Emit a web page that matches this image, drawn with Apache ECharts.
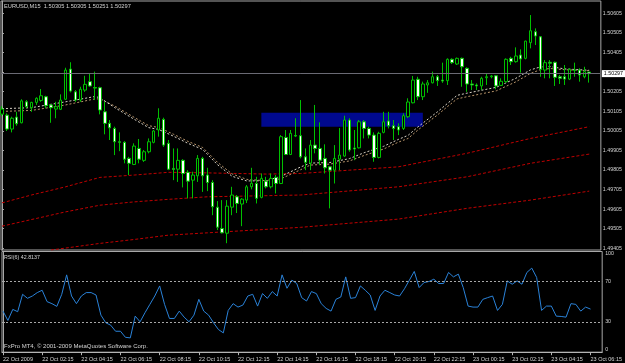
<!DOCTYPE html>
<html><head><meta charset="utf-8">
<script src="https://cdn.jsdelivr.net/npm/echarts@6/dist/echarts.min.js"></script>
<style>html,body{margin:0;padding:0;background:#000;}#c{width:625px;height:363px;}</style>
</head><body><div id="c"></div>
<script>
const symbolName = 'EURUSD,M15';
const opens = [1.50090,1.50085,1.50014,1.50075,1.50046,1.50153,1.50123,1.50150,1.50160,1.50179,
1.50137,1.50116,1.50115,1.50166,1.50320,1.50204,1.50162,1.50213,1.50256,1.50226,
1.50225,1.50102,1.50043,1.50017,1.49949,1.49946,1.49864,1.49833,1.49915,1.49854,
1.49898,1.49946,1.50009,1.50063,1.49941,1.49813,1.49809,1.49854,1.49793,1.49753,
1.49775,1.49864,1.49779,1.49741,1.49615,1.49506,1.49482,1.49615,1.49668,1.49631,
1.49651,1.49719,1.49736,1.49665,1.49748,1.49719,1.49767,1.49736,1.49971,1.49884,
1.49981,1.49980,1.49872,1.49840,1.49932,1.49915,1.49864,1.49821,1.49804,1.49860,
1.49876,1.50060,1.49917,1.49918,1.50051,1.50017,1.49983,1.49869,1.49997,1.50055,
1.50031,1.50026,1.50017,1.50077,1.50148,1.50268,1.50179,1.50239,1.50250,1.50281,
1.50264,1.50261,1.50370,1.50346,1.50375,1.50324,1.50244,1.50239,1.50234,1.50276,
1.50281,1.50286,1.50237,1.50256,1.50375,1.50358,1.50392,1.50375,1.50455,1.50511,
1.50485,1.50315,1.50355,1.50355,1.50281,1.50281,1.50269,1.50313,1.50315,1.50281,
1.50305];
const highs = [1.50131,1.50094,1.50077,1.50102,1.50166,1.50162,1.50153,1.50176,1.50218,1.50184,
1.50140,1.50153,1.50191,1.50327,1.50355,1.50213,1.50230,1.50286,1.50295,1.50307,
1.50230,1.50153,1.50060,1.50026,1.49997,1.49952,1.49872,1.49941,1.49963,1.49907,
1.49966,1.50009,1.50120,1.50072,1.49958,1.49915,1.49915,1.49860,1.49804,1.49796,
1.49881,1.49872,1.49816,1.49753,1.49646,1.49651,1.49651,1.49719,1.49677,1.49661,
1.49728,1.49816,1.49770,1.49787,1.49770,1.49787,1.49779,1.49983,1.50009,1.50009,
1.50069,1.50162,1.49915,1.49958,1.50137,1.50048,1.49936,1.49825,1.49932,1.50019,
1.50082,1.50069,1.50009,1.50060,1.50060,1.50026,1.49997,1.50000,1.50102,1.50102,
1.50060,1.50043,1.50094,1.50171,1.50285,1.50281,1.50256,1.50264,1.50307,1.50290,
1.50353,1.50375,1.50375,1.50379,1.50379,1.50329,1.50264,1.50247,1.50281,1.50298,
1.50290,1.50290,1.50273,1.50375,1.50383,1.50431,1.50421,1.50465,1.50596,1.50528,
1.50489,1.50366,1.50366,1.50358,1.50290,1.50341,1.50324,1.50353,1.50324,1.50332,
1.50305];
const lows = [1.50080,1.50004,1.49997,1.50031,1.50043,1.50120,1.50102,1.50137,1.50153,1.50120,
1.50046,1.50069,1.50111,1.50162,1.50201,1.50153,1.50153,1.50204,1.50230,1.50162,
1.50089,1.49987,1.49958,1.49881,1.49901,1.49839,1.49779,1.49830,1.49839,1.49846,
1.49890,1.49941,1.49975,1.49923,1.49804,1.49753,1.49744,1.49716,1.49660,1.49660,
1.49744,1.49693,1.49697,1.49574,1.49498,1.49481,1.49431,1.49574,1.49585,1.49518,
1.49636,1.49706,1.49634,1.49660,1.49711,1.49711,1.49685,1.49733,1.49881,1.49881,
1.49973,1.49864,1.49804,1.49804,1.49890,1.49830,1.49787,1.49609,1.49736,1.49804,
1.49872,1.49898,1.49855,1.49915,1.49966,1.49966,1.49847,1.49864,1.49992,1.50017,
1.49958,1.49983,1.50009,1.50070,1.50145,1.50162,1.50162,1.50199,1.50247,1.50234,
1.50250,1.50239,1.50346,1.50341,1.50230,1.50204,1.50213,1.50213,1.50213,1.50239,
1.50273,1.50217,1.50234,1.50250,1.50341,1.50353,1.50302,1.50370,1.50426,1.50443,
1.50281,1.50273,1.50273,1.50234,1.50244,1.50239,1.50264,1.50281,1.50256,1.50273,
1.50251];
const closes = [1.50116,1.50014,1.50069,1.50041,1.50158,1.50128,1.50150,1.50171,1.50184,1.50133,
1.50123,1.50128,1.50162,1.50315,1.50208,1.50162,1.50217,1.50242,1.50234,1.50223,
1.50111,1.50043,1.50020,1.49949,1.49946,1.49860,1.49839,1.49927,1.49860,1.49898,
1.49949,1.50004,1.50069,1.49932,1.49809,1.49808,1.49854,1.49787,1.49748,1.49779,
1.49864,1.49775,1.49741,1.49617,1.49513,1.49484,1.49620,1.49677,1.49634,1.49656,
1.49719,1.49737,1.49660,1.49762,1.49719,1.49762,1.49736,1.49975,1.49884,1.49992,
1.49978,1.49872,1.49844,1.49932,1.49915,1.49855,1.49816,1.49804,1.49864,1.49881,
1.50060,1.49907,1.49912,1.50051,1.50017,1.49983,1.49869,1.49992,1.50051,1.50031,
1.50017,1.50009,1.50082,1.50152,1.50264,1.50179,1.50244,1.50250,1.50281,1.50261,
1.50259,1.50370,1.50353,1.50375,1.50332,1.50244,1.50239,1.50234,1.50273,1.50281,
1.50285,1.50234,1.50258,1.50370,1.50358,1.50387,1.50372,1.50463,1.50516,1.50489,
1.50319,1.50353,1.50350,1.50278,1.50273,1.50269,1.50319,1.50315,1.50290,1.50307,
1.50297];
const rsi = [40.8,31.5,42.5,40.2,57.5,53.5,55.8,59.2,61.5,50.2,
48.2,45.5,57.5,76.8,55.8,48.2,55.8,59.2,59.2,56.8,
36.8,29.2,26.8,20.8,20.8,14.8,14.2,35.8,30.2,39.2,
47.5,55.8,65.8,47.5,33.5,33.5,40.8,34.8,30.2,36.8,
52.5,40.8,36.8,29.2,22.5,19.2,41.5,48.2,44.8,46.8,
55.8,57.5,45.8,58.2,53.5,60.2,55.8,76.8,63.5,71.5,
68.2,54.2,50.8,60.2,58.2,48.2,43.5,40.8,52.5,54.8,
74.8,53.5,54.2,65.8,61.5,56.8,41.5,55.8,61.5,59.2,
56.8,55.8,63.0,71.5,80.2,64.2,69.2,70.2,72.5,68.2,
68.2,79.2,74.8,77.5,64.2,45.8,44.8,44.8,52.5,54.2,
55.8,41.5,47.5,70.8,67.5,70.8,67.5,79.2,83.5,74.2,
41.5,45.8,45.8,35.8,35.5,34.8,48.2,47.5,40.8,44.8,
42.8137];
const rsiLevels = [70, 30];
const rsiTicks = [0, 30, 70, 100];
// fast / slow moving averages (read at selected bars)
const maIdx = [0,6,13,19,20,23,27,30,32,35,38,41,44,47,50,54,57,61,63,67,71,74,78,81,83,85,89,91,93,95,98,101,105,108,110,112,115,120];
const maFast = [1.50118,1.50123,1.50153,1.50180,1.50174,1.50124,1.50064,1.50021,1.50012,1.49978,1.49941,1.49910,1.49833,1.49773,1.49749,1.49750,1.49772,1.49820,1.49840,1.49843,1.49863,1.49893,1.49926,1.49961,1.49982,1.50025,1.50102,1.50144,1.50186,1.50197,1.50212,1.50227,1.50273,1.50316,1.50331,1.50333,1.50321,1.50314];
const maSlow = [1.50104,1.50109,1.50137,1.50168,1.50168,1.50132,1.50074,1.50031,1.50022,1.49988,1.49951,1.49920,1.49845,1.49785,1.49757,1.49750,1.49760,1.49806,1.49830,1.49835,1.49851,1.49879,1.49912,1.49947,1.49966,1.50009,1.50086,1.50128,1.50168,1.50179,1.50194,1.50209,1.50255,1.50298,1.50317,1.50323,1.50317,1.50312];
// long moving averages (red)
const redAIdx = [0,6,13,20,27,34,40,54,61,71,81,95,108,120];
const redA = [1.49637,1.49677,1.49719,1.49767,1.49779,1.49793,1.49791,1.49784,1.49787,1.49804,1.49821,1.49890,1.49966,1.50026];
const redBIdx = [0,13,20,27,34,42,61,81,95,108,120];
const redB = [1.49518,1.49591,1.49625,1.49642,1.49655,1.49668,1.49677,1.49719,1.49770,1.49839,1.49886];
const redCIdx = [10,20,27,34,42,61,81,95,108,120];
const redC = [1.49396,1.49430,1.49450,1.49472,1.49484,1.49512,1.49554,1.49609,1.49651,1.49697];
// rectangle object
const boxBars = [53, 86];
const boxPrices = [1.50026, 1.50097];
const priceTicks = [1.49405,1.49505,1.49605,1.49705,1.49805,1.49905,1.50005,1.50105,1.50205,1.50305,1.50405,1.50505,1.50605];
const tickBars = [0,8,16,24,32,40,48,56,64,72,80,88,96,104,112,120];
const tickLabels = ['22 Oct 2009','22 Oct 02:15','22 Oct 04:15','22 Oct 06:15','22 Oct 08:15','22 Oct 10:15','22 Oct 12:15','22 Oct 14:15','22 Oct 16:15','22 Oct 18:15','22 Oct 20:15','22 Oct 22:15','23 Oct 00:15','23 Oct 02:15','23 Oct 04:15','23 Oct 06:15'];
const copyright = 'FxPro MT4, \u00a9 2001-2009 MetaQuotes Software Corp.';

const FONT = 'Liberation Sans';
const TXT = '#d4d4d4';
const last = opens.length - 1;
const pair = (idx, vals) => idx.map((n, k) => [n, vals[k]]);
const xMin = -0.204, xMax = 122.38;

const chart = echarts.init(document.getElementById('c'), null, {renderer: 'canvas'});
chart.setOption({
  animation: false,
  backgroundColor: '#000',
  title: [
    {text: symbolName + '  ' + [opens[last], highs[last], lows[last], closes[last]].map(v => v.toFixed(5)).join(' '),
     left: 4, top: 3, padding: 0, textStyle: {color: TXT, fontSize: 5.7, fontWeight: 'normal', fontFamily: FONT}},
    {text: 'RSI(6) ' + rsi[last].toFixed(4), left: 4, top: 255.5, padding: 0,
     textStyle: {color: TXT, fontSize: 5.3, fontWeight: 'normal', fontFamily: FONT}},
    {text: copyright, left: 4, top: 343, padding: 0,
     textStyle: {color: TXT, fontSize: 6, fontWeight: 'normal', fontFamily: FONT}}
  ],
  grid: [
    {left: 1, top: 1, width: 602, height: 249, show: true, borderColor: '#a8a8a8', borderWidth: 1, backgroundColor: 'transparent'},
    {left: 1, top: 251.5, width: 602, height: 100.7, show: true, borderColor: '#a8a8a8', borderWidth: 1, backgroundColor: 'transparent'}
  ],
  xAxis: [
    {type: 'value', gridIndex: 0, min: xMin, max: xMax, show: false, splitLine: {show: false}},
    {type: 'value', gridIndex: 1, min: xMin, max: xMax, splitLine: {show: false},
     axisLine: {show: true, lineStyle: {color: '#b4b4b4'}},
     axisTick: {show: true, customValues: tickBars, length: 3, lineStyle: {color: '#b4b4b4'}},
     axisLabel: {show: true, customValues: tickBars, formatter: v => tickLabels[tickBars.indexOf(v)] || '',
       align: 'left', margin: 4, color: TXT, fontSize: 5.5, fontFamily: FONT}}
  ],
  yAxis: [
    {type: 'value', gridIndex: 0, position: 'right', min: 1.493963, max: 1.506678, splitLine: {show: false},
     axisLine: {show: true, lineStyle: {color: '#a8a8a8'}},
     axisTick: {show: true, customValues: priceTicks, length: 2, lineStyle: {color: '#a8a8a8'}},
     axisLabel: {show: true, customValues: priceTicks, formatter: v => v.toFixed(5), margin: 2,
       color: TXT, fontSize: 5.3, fontFamily: FONT}},
    {type: 'value', gridIndex: 1, position: 'right', min: 0, max: 100, splitLine: {show: false},
     axisLine: {show: true, lineStyle: {color: '#a8a8a8'}},
     axisTick: {show: true, customValues: rsiTicks, length: 2, lineStyle: {color: '#a8a8a8'}},
     axisLabel: {show: true, customValues: rsiTicks, margin: 3, color: TXT, fontSize: 5.3, fontFamily: FONT,
       verticalAlignMaxLabel: 'top', verticalAlignMinLabel: 'bottom'}}
  ],
  series: [
    {type: 'line', xAxisIndex: 0, yAxisIndex: 0, data: [], z: 1, silent: true,
     markArea: {silent: true, itemStyle: {color: '#00098e', opacity: 1},
       data: [[{xAxis: boxBars[0], yAxis: boxPrices[0]}, {xAxis: boxBars[1], yAxis: boxPrices[1]}]]}},
    {name: 'redA', type: 'line', xAxisIndex: 0, yAxisIndex: 0, data: pair(redAIdx, redA), showSymbol: false, silent: true, z: 2,
     lineStyle: {color: '#c00000', width: 1, type: [3, 2]}},
    {name: 'redB', type: 'line', xAxisIndex: 0, yAxisIndex: 0, data: pair(redBIdx, redB), showSymbol: false, silent: true, z: 2,
     lineStyle: {color: '#c00000', width: 1, type: [3, 2]}},
    {name: 'redC', type: 'line', xAxisIndex: 0, yAxisIndex: 0, data: pair(redCIdx, redC), showSymbol: false, silent: true, z: 2,
     lineStyle: {color: '#c00000', width: 1, type: [3, 2]}},
    {name: 'maSlow', type: 'line', xAxisIndex: 0, yAxisIndex: 0, data: pair(maIdx, maSlow), showSymbol: false, silent: true, z: 2,
     lineStyle: {color: '#b8946a', width: 1, type: [2, 2]}},
    {name: 'maFast', type: 'line', xAxisIndex: 0, yAxisIndex: 0, data: pair(maIdx, maFast), showSymbol: false, silent: true, z: 2,
     lineStyle: {color: '#d8d2c6', width: 1, type: [2, 2]}},
    {name: 'bid', type: 'line', xAxisIndex: 0, yAxisIndex: 0, data: [[0, closes[last]]], showSymbol: false, silent: true, z: 2,
     lineStyle: {opacity: 0},
     markLine: {silent: true, symbol: ['none', 'none'], animation: false, precision: 5,
       lineStyle: {color: '#6a6a74', width: 1, type: 'solid'},
       label: {show: true, position: 'end', distance: 1, formatter: () => closes[last].toFixed(5),
         backgroundColor: '#ffffff', color: '#000000', padding: [1, 2, 1, 2], fontSize: 5.3, fontFamily: FONT},
       data: [{yAxis: closes[last]}]}},
    {name: 'price', type: 'candlestick', xAxisIndex: 0, yAxisIndex: 0, z: 3, barWidth: 3,
     data: opens.map((o, i) => [i, o, closes[i], lows[i], highs[i]]),
     encode: {x: 0, y: [1, 2, 3, 4]},
     itemStyle: {color: '#000000', color0: '#ffffff', borderColor: '#00c000', borderColor0: '#00c000', borderColorDoji: '#00c000', borderWidth: 1}},
    {name: 'RSI', type: 'line', xAxisIndex: 1, yAxisIndex: 1, data: rsi.map((v, i) => [i, v]), showSymbol: false, silent: true,
     lineStyle: {color: '#2a82d8', width: 1},
     markLine: {silent: true, symbol: ['none', 'none'], label: {show: false},
       lineStyle: {color: '#a8a8a8', width: 1, type: [2, 2]},
       data: rsiLevels.map(v => ({yAxis: v}))}}
  ]
});
</script></body></html>
